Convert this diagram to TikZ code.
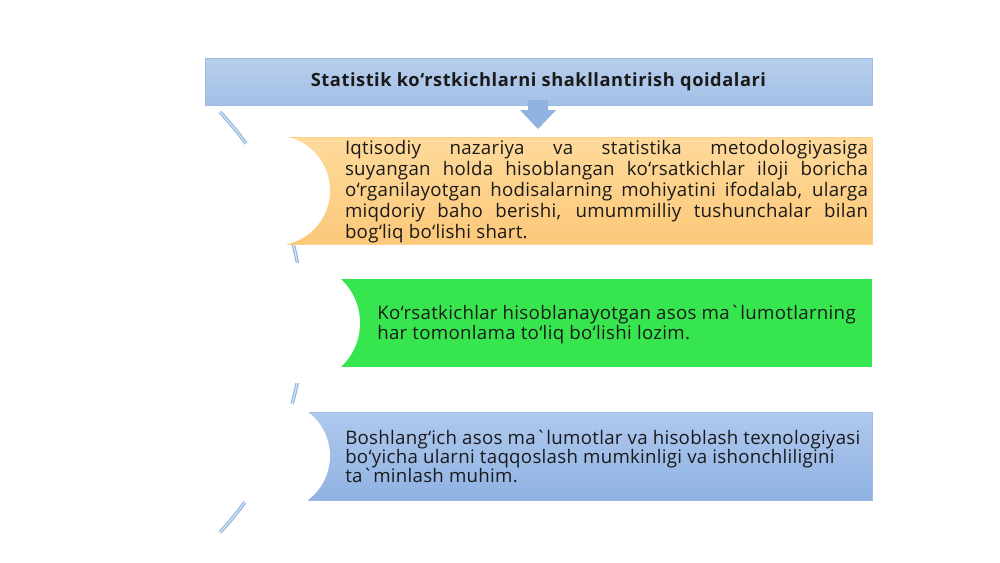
\documentclass[tikz,border=0pt]{standalone}
\usepackage{fontspec}
\setmainfont{Open Sans}
\hyphenpenalty=10000
\exhyphenpenalty=10000
\definecolor{titletop}{RGB}{184,206,236}
\definecolor{titlebot}{RGB}{163,192,231}
\definecolor{titleline}{RGB}{157,187,227}
\definecolor{orangetop}{RGB}{254,218,155}
\definecolor{orangebot}{RGB}{252,200,122}
\definecolor{orangeline}{RGB}{251,208,138}
\definecolor{greenfill}{RGB}{55,230,79}
\definecolor{bluetop}{RGB}{176,201,238}
\definecolor{bluebot}{RGB}{143,178,227}
\definecolor{blueline}{RGB}{156,188,230}
\definecolor{arrowfill}{RGB}{143,178,224}
\definecolor{arcline}{RGB}{143,180,224}
\definecolor{arcinner}{RGB}{210,225,244}
\definecolor{inktext}{RGB}{26,26,26}
\begin{document}
\begin{tikzpicture}[x=0.75pt,y=-0.75pt]
    \tikzset{every node/.style={inner sep=0pt,text=inktext}}
    \useasboundingbox (0,0) rectangle (1000,562);
    \fill [white] (0,0) rectangle (1000,562);
    \draw [arcline,double=arcinner,double distance=1pt,line width=0.8pt] (220,112) arc [start angle=-43.2,end angle=43.2,radius=307];
    \draw [titleline,top color=titletop,bottom color=titlebot] (205,58) rectangle (872,105);
    \node [font=\bfseries\fontsize{13.7}{16}\selectfont\addfontfeature{LetterSpace=3.0}] (title) at (538.5,81.5) {Statistik ko‘rstkichlarni shakllantirish qoidalari};
    \fill [arrowfill] (528,100) -- (548,100) -- (548,110) -- (556,110) -- (538,129) -- (520,110) -- (528,110) -- cycle;
    \draw [orangeline,top color=orangetop,bottom color=orangebot] (287,137) rectangle (872,244);
    \fill [white] (275,190.5) circle [radius=55];
    \node [font=\fontsize{14}{15.75}\selectfont\addfontfeature{LetterSpace=1.5},text width=392.25pt,align=justify] (rule1) at (606.5,192) {Iqtisodiy nazariya va statistika metodologiyasiga\linebreak suyangan holda hisoblangan ko‘rsatkichlar iloji boricha\linebreak o‘rganilayotgan hodisalarning mohiyatini ifodalab, ularga\linebreak miqdoriy baho berishi, umummilliy tushunchalar bilan\linebreak bog‘liq bo‘lishi shart.};
    \fill [greenfill] (341,279) rectangle (872,367);
    \fill [white] (300,323) circle [radius=60];
    \node [font=\fontsize{14}{15}\selectfont\addfontfeature{LetterSpace=1.6},align=left,anchor=west] (rule2) at (377,325) {Ko‘rsatkichlar hisoblanayotgan asos ma\textasciigrave lumotlarning\\har tomonlama to‘liq bo‘lishi lozim.};
    \draw [blueline,top color=bluetop,bottom color=bluebot] (308,412) rectangle (872,500);
    \fill [white] (275,456) circle [radius=55];
    \node [font=\fontsize{14}{14.25}\selectfont\addfontfeature{LetterSpace=1.5},align=left,anchor=west] (rule3) at (345,456) {Boshlang‘ich asos ma\textasciigrave lumotlar va hisoblash texnologiyasi\\bo‘yicha ularni taqqoslash mumkinligi va ishonchliligini\\ta\textasciigrave minlash muhim.};
\end{tikzpicture}
\end{document}
